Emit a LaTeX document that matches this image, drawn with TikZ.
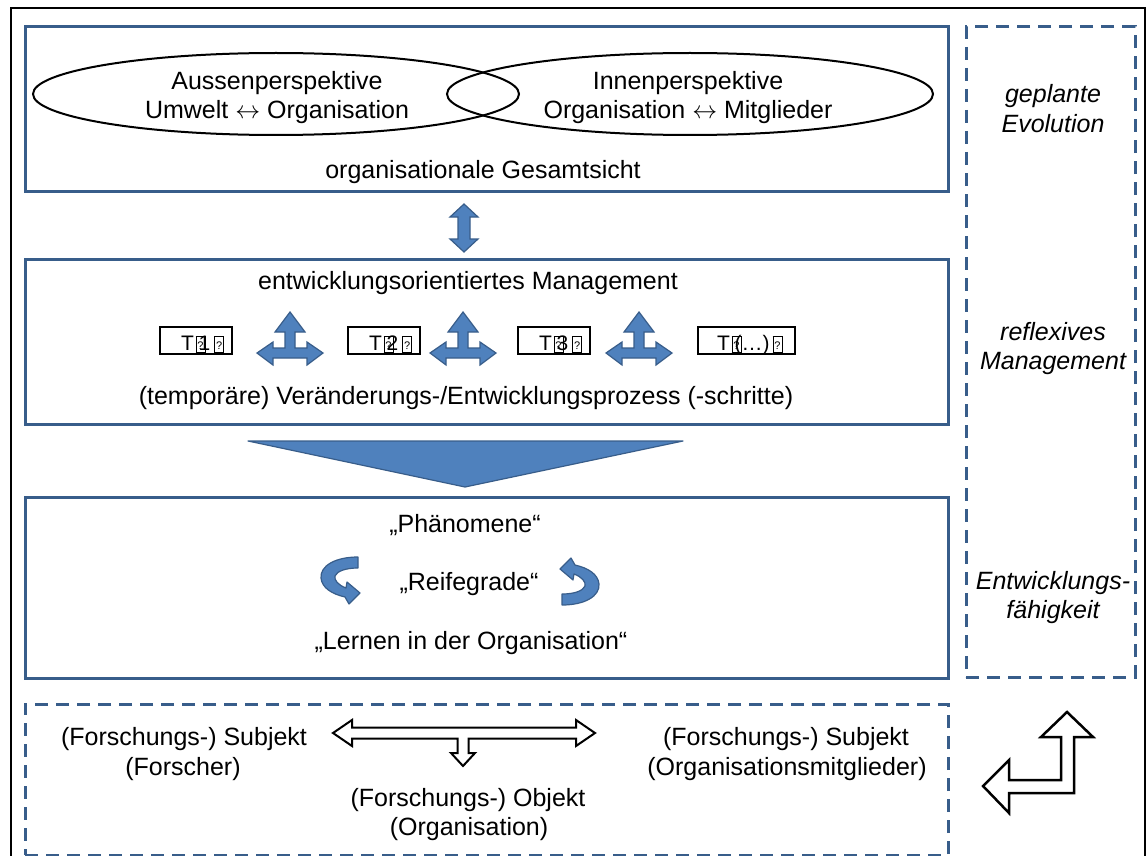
\documentclass[tikz,border=0pt]{standalone}
\usepackage{fontspec}
\setmainfont{Liberation Sans}
\usetikzlibrary{shapes.geometric}
\definecolor{boxblue}{RGB}{56,93,138}
\definecolor{fillblue}{RGB}{79,129,189}
% placeholder glyph box as printed in the step labels
\newcommand\tofubox{{\setlength\fboxsep{0pt}\setlength\fboxrule{1pt}\fbox{\makebox[8pt]{\rule[-1.5pt]{0pt}{15pt}\raisebox{1pt}{\fontsize{11}{11}\selectfont ?}}}}}
\newcommand\lr{\ensuremath{\leftrightarrow}}
\begin{document}
\begin{tikzpicture}[x=1pt,y=-1pt,
  panel/.style={draw=boxblue, line width=3pt, minimum width=923pt, inner sep=0pt},
  dashpanel/.style={draw=boxblue, line width=3pt, dash pattern=on 13pt off 8pt, inner sep=0pt},
  lbl/.style={font=\fontsize{25}{29}\selectfont, inner sep=0pt, anchor=base},
  side/.style={lbl, font=\fontsize{25}{29}\selectfont\itshape},
  tbox/.style={draw=black, line width=2pt, minimum height=27pt, inner sep=0pt},
  ttext/.style={font=\fontsize{21}{25}\selectfont, inner sep=0pt, anchor=base west},
  blockarrow/.style={fill=fillblue, draw=boxblue, line width=1.2pt, line join=miter},
  hollowarrow/.style={fill=white, draw=black, line width=2pt, line join=miter},
  persp/.style={draw=black, line width=2pt, ellipse, minimum width=486pt, minimum height=82pt, inner sep=0pt}
]
\useasboundingbox (0,0) rectangle (1148,856);

% outer frame
\draw[black, line width=1.5pt] (11,870) -- (11,8) -- (1145,8) -- (1145,870);

% main panels
\node[panel, minimum height=164pt] (gesamt) at (486.5,109) {};
\node[panel, minimum height=165pt] (mgmt) at (486.5,341.5) {};
\node[panel, minimum height=181pt] (phaen) at (486.5,587.5) {};
\node[dashpanel, minimum width=169pt, minimum height=650pt] (sidebox) at (1050.5,352) {};
\node[dashpanel, minimum width=923pt, minimum height=151pt] (research) at (486.5,779.5) {};

% perspectives
\node[persp] (aussen) at (276,94) {};
\node[persp] (innen) at (690,94) {};
\node[lbl] (aussen1) at (277,90) {Aussenperspektive};
\node[lbl] (aussen2) at (277,119) {Umwelt \lr{} Organisation};
\node[lbl] (innen1) at (688,90) {Innenperspektive};
\node[lbl] (innen2) at (688,119) {Organisation \lr{} Mitglieder};
\node[lbl] (gesamtlbl) at (483,178) {organisationale Gesamtsicht};

% arrow between first two panels
\draw[blockarrow] (464,204) -- (478,217) -- (470,217) -- (470,239) -- (478,239)
  -- (464,252) -- (450,239) -- (458,239) -- (458,217) -- (450,217) -- cycle;

% management panel
\node[lbl] (mgmtlbl) at (468,289) {entwicklungsorientiertes Management};
\node[lbl] (proclbl) at (466,404) {(temporäre) Veränderungs-/Entwicklungsprozess (-schritte)};

\node[tbox, minimum width=72pt] (t1) at (196,340.5) {};
\node[tbox, minimum width=72pt] (t2) at (384,340.5) {};
\node[tbox, minimum width=72pt] (t3) at (554,340.5) {};
\node[tbox, minimum width=97pt] (t4) at (746.5,340.5) {};
\node[ttext] (t1lbl) at (181,350) {T\hspace{1.5pt}\rlap{\tofubox}\hspace{3pt}1\hspace{4pt}\tofubox};
\node[ttext] (t2lbl) at (369,350) {T\hspace{1.5pt}\rlap{\tofubox}\hspace{3pt}2\hspace{4pt}\tofubox};
\node[ttext] (t3lbl) at (539,350) {T\hspace{1.5pt}\rlap{\tofubox}\hspace{3pt}3\hspace{4pt}\tofubox};
\node[ttext] (t4lbl) at (717,350) {T\hspace{1.5pt}\rlap{\tofubox}\hspace{3pt}(…)\hspace{3pt}\tofubox};

% three-way arrows between the steps
\foreach \cx in {290,463,639} {
  \draw[blockarrow] (\cx,312) -- (\cx+15,332) -- (\cx+5,332) -- (\cx+5,348)
    -- (\cx+17,348) -- (\cx+17,342) -- (\cx+33,353) -- (\cx+17,365) -- (\cx+17,358)
    -- (\cx-17,358) -- (\cx-17,365) -- (\cx-33,353) -- (\cx-17,342) -- (\cx-17,348)
    -- (\cx-5,348) -- (\cx-5,332) -- (\cx-15,332) -- cycle;
}

% funnel triangle
\draw[blockarrow, line join=round] (248,441) -- (683,441) -- (465,487) -- cycle;

% phenomena panel
\node[lbl] (phlbl) at (465,532) {„Phänomene“};
\node[lbl] (reiflbl) at (469,590) {„Reifegrade“};
\node[lbl] (lernlbl) at (471,649) {„Lernen in der Organisation“};

% circular arrows
\def\curlarrow{
  \draw[blockarrow, line join=round] (358,557) .. controls (335,557) and (320,566) .. (321,578)
    .. controls (322,588) and (332,594) .. (345,597)
    -- (349,604) -- (360,593) -- (347,582)
    -- (346,588) .. controls (338,585) and (334,580) .. (335,576)
    .. controls (337,571) and (346,568) .. (358,568) -- cycle;
}
\curlarrow
\begin{scope}[rotate around={180:(460,581)}]
\curlarrow
\end{scope}

% side column
\node[side] (s1) at (1053,103) {geplante};
\node[side] (s2) at (1053,132) {Evolution};
\node[side] (s3) at (1053,340) {reflexives};
\node[side] (s4) at (1053,369) {Management};
\node[side] (s5) at (1053,589) {Entwicklungs-};
\node[side] (s6) at (1053,618) {fähigkeit};

% research panel
\node[lbl] (subj1) at (184,745) {(Forschungs-) Subjekt};
\node[lbl] (subj1b) at (183,775) {(Forscher)};
\node[lbl] (obj1) at (468,806) {(Forschungs-) Objekt};
\node[lbl] (obj1b) at (469,835) {(Organisation)};
\node[lbl] (subj2) at (786,745) {(Forschungs-) Subjekt};
\node[lbl] (subj2b) at (787,775) {(Organisationsmitglieder)};

\draw[hollowarrow] (333,733) -- (352,720) -- (352,727.5) -- (576,727.5) -- (576,720)
  -- (595,733) -- (576,746) -- (576,738.5) -- (468.5,738.5) -- (468.5,753) -- (475,753)
  -- (463,766) -- (451,753) -- (457.5,753) -- (457.5,738.5) -- (352,738.5) -- (352,746) -- cycle;

% bent arrow
\draw[hollowarrow, line width=2.5pt] (1067,712) -- (1093,737) -- (1074,737) -- (1074,793)
  -- (1009,793) -- (1009,813) -- (983,786) -- (1009,760) -- (1009,780) -- (1061,780)
  -- (1061,737) -- (1041,737) -- cycle;
\end{tikzpicture}
\end{document}
